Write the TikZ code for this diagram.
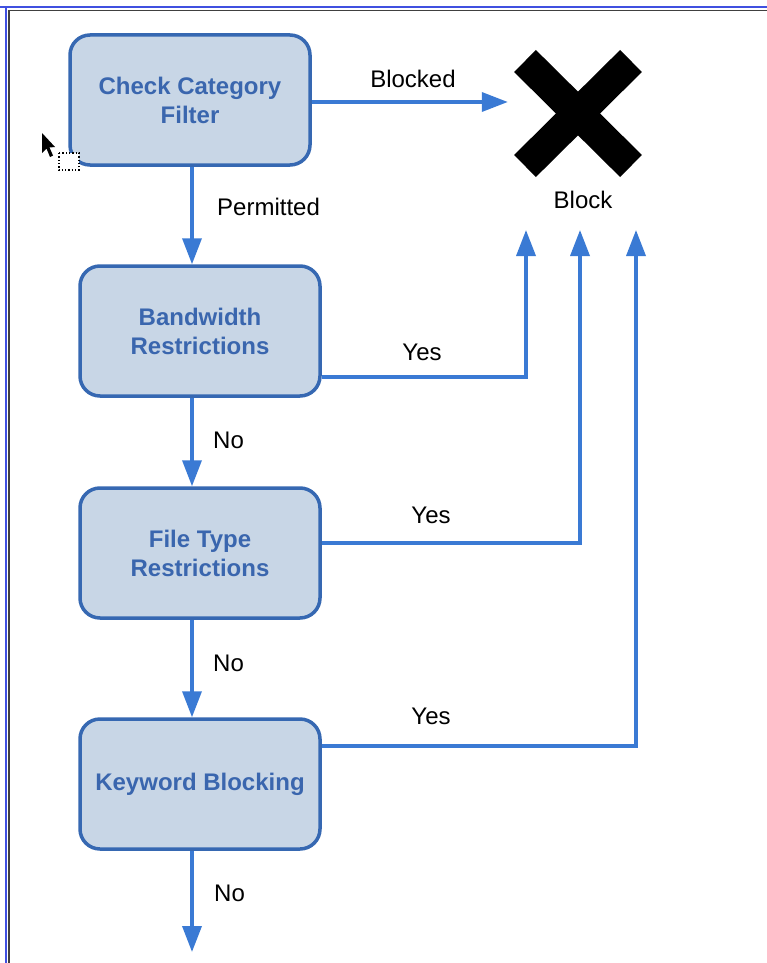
\documentclass[tikz,border=0pt]{standalone}
\usepackage{fontspec}
\setmainfont{Liberation Sans}
\usetikzlibrary{arrows.meta,calc}
\definecolor{boxfill}{HTML}{C8D6E6}
\definecolor{boxline}{HTML}{3668B2}
\definecolor{boxtext}{HTML}{3A66AE}
\definecolor{arrowc}{HTML}{3A7AD4}
\definecolor{framedark}{HTML}{404040}
\definecolor{frameblue}{HTML}{4050E0}
\begin{document}
\begin{tikzpicture}[x=1pt,y=-1pt,
  stepbox/.style={draw=boxline, fill=boxfill, line width=3.5pt, rounded corners=20pt,
    minimum width=240pt, minimum height=130pt, inner sep=0pt, align=center,
    text=boxtext, font=\fontsize{24}{29}\selectfont\bfseries},
  arr/.style={draw=arrowc, line width=3.5pt, -{Triangle[length=26pt,width=19pt]}},
  lbl/.style={font=\fontsize{24}{28}\selectfont, text=black, inner sep=0pt}]
\useasboundingbox (0,0) rectangle (767,963);
\fill[white] (0,0) rectangle (767,963);
% window frame
\draw[frameblue, line width=1.2pt] (0,7) -- (767,7);
\draw[frameblue, line width=1.2pt] (6,7) -- (6,963);
\draw[framedark, line width=1.6pt] (9,10.5) -- (767,10.5);
\draw[framedark, line width=1.6pt] (9,10.5) -- (9,963);
% boxes
\node[stepbox] (b1) at (190,100) {Check Category\\Filter};
\node[stepbox] (b2) at (200,331) {Bandwidth\\Restrictions};
\node[stepbox] (b3) at (200,553) {File Type\\Restrictions};
\node[stepbox] (b4) at (200,784) {Keyword Blocking};
% block mark
\node[minimum width=140pt, minimum height=128pt, inner sep=0pt] (xm) at (578,113) {};
\draw[black, line width=31pt] (525,61) -- (631,166);
\draw[black, line width=31pt] (631,61) -- (525,166);
\node[lbl] (blk) at (583,200) {Block};
% free ends
\coordinate (u1) at (526,230);
\coordinate (u2) at (580,230);
\coordinate (u3) at (636,230);
\coordinate (endpt) at (192,952);
% connectors
\draw[arr] (b1.east |- 0,102) -- (xm.west |- 0,102);
\node[lbl] at (413,79) {Blocked};
\draw[arr] (192,0 |- b1.south) -- (192,0 |- b2.north);
\node[lbl,anchor=west] at (217,207) {Permitted};
\draw[arr] (192,0 |- b2.south) -- (192,0 |- b3.north);
\node[lbl,anchor=west] at (213,440) {No};
\draw[arr] (192,0 |- b3.south) -- (192,0 |- b4.north);
\node[lbl,anchor=west] at (213,663) {No};
\draw[arr] (192,0 |- b4.south) -- (endpt);
\node[lbl,anchor=west] at (214,893) {No};
\draw[arr] (b2.east |- 0,377) -| (u1);
\node[lbl] at (422,352) {Yes};
\draw[arr] (b3.east |- 0,543) -| (u2);
\node[lbl] at (431,515) {Yes};
\draw[arr] (b4.east |- 0,746) -| (u3);
\node[lbl] at (431,716) {Yes};
% mouse cursor
\fill[black] (42,133) -- (42,153) -- (46.5,148.5) -- (50,157) -- (53,155.5) -- (49.5,147.5) -- (55,147) -- cycle;
\draw[black, line width=1.3pt, dotted, fill=white] (59,153) rectangle (79,170);
\end{tikzpicture}
\end{document}
